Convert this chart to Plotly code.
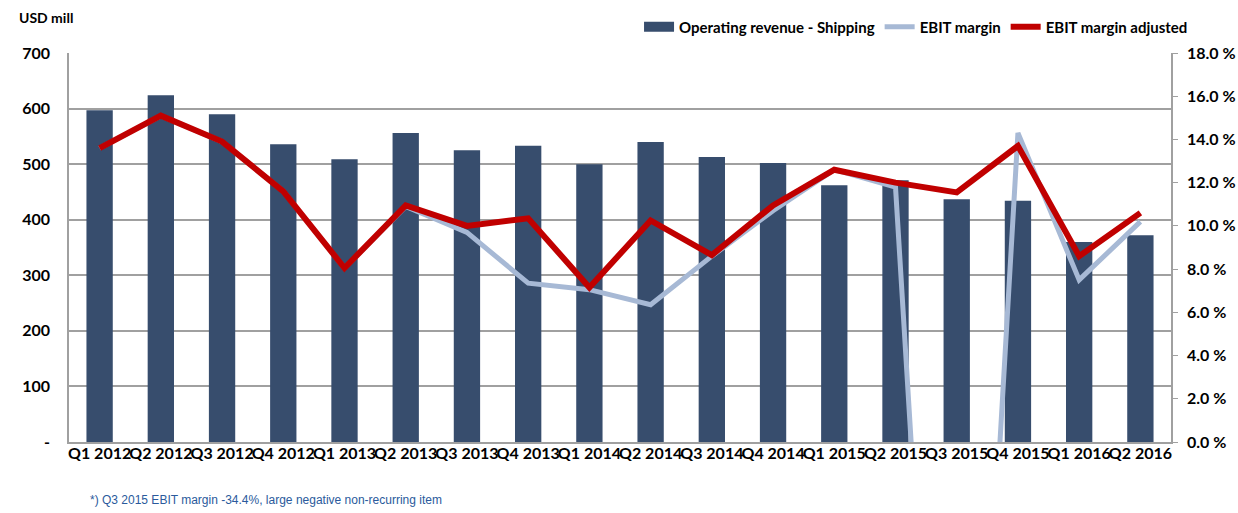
import plotly.graph_objects as go

quarters = ["Q1 2012", "Q2 2012", "Q3 2012", "Q4 2012", "Q1 2013", "Q2 2013", "Q3 2013", "Q4 2013",
            "Q1 2014", "Q2 2014", "Q3 2014", "Q4 2014", "Q1 2015", "Q2 2015", "Q3 2015", "Q4 2015",
            "Q1 2016", "Q2 2016"]
revenue = [597, 624, 590, 536, 509, 556, 525, 533, 500, 540, 513, 502, 462, 471, 437, 434, 360, 372]
ebit_margin = [13.6, 15.1, 13.9, 11.6, 8.05, 10.9, 9.7, 7.35, 7.05, 6.35, 8.6, 10.7, 12.6, 11.8, -34.4, 14.3, 7.5, 10.2]
ebit_margin_adj = [13.6, 15.1, 13.9, 11.6, 8.05, 10.95, 10.0, 10.35, 7.15, 10.25, 8.65, 10.95, 12.6, 12.0, 11.55, 13.7, 8.6, 10.6]

left_ticks = [0, 100, 200, 300, 400, 500, 600, 700]
left_labels = ["-", "100", "200", "300", "400", "500", "600", "700"]
right_ticks = [0, 2, 4, 6, 8, 10, 12, 14, 16, 18]
right_labels = ["0.0 %", "2.0 %", "4.0 %", "6.0 %", "8.0 %", "10.0 %", "12.0 %", "14.0 %", "16.0 %", "18.0 %"]

FONT = "Lato, sans-serif"
BOLD16 = dict(family=FONT, size=16, color="black", weight="bold")
BAR_COLOR = "#374d6d"

fig = go.Figure()
fig.add_trace(go.Bar(x=quarters, y=revenue, name="Operating revenue - Shipping",
                     marker=dict(color=BAR_COLOR, line=dict(width=0)), yaxis="y",
                     showlegend=False))
# legend-only entry so the bar key is drawn as a wide block, as in the original
fig.add_trace(go.Scatter(x=[None], y=[None], name="Operating revenue - Shipping", mode="lines",
                         line=dict(color=BAR_COLOR, width=10), yaxis="y", showlegend=True))
fig.add_trace(go.Scatter(x=quarters, y=ebit_margin, name="EBIT margin", mode="lines",
                         line=dict(color="#a7b9d5", width=5), yaxis="y2"))
fig.add_trace(go.Scatter(x=quarters, y=ebit_margin_adj, name="EBIT margin adjusted", mode="lines",
                         line=dict(color="#c00000", width=6), yaxis="y2"))

fig.update_layout(
    width=1238, height=513,
    margin=dict(l=69, r=67, t=53, b=71, autoexpand=False),
    paper_bgcolor="white", plot_bgcolor="white",
    font=dict(family=FONT, size=15, color="black"),
    bargap=0.57,
    showlegend=True,
    legend=dict(orientation="h", x=1.02, xanchor="right", y=1.067, yanchor="middle",
                font=dict(family=FONT, size=15, color="black", weight="bold"),
                bgcolor="rgba(0,0,0,0)", traceorder="normal", itemwidth=30,
                tracegroupgap=0),
    xaxis=dict(type="category", showline=True, linecolor="#a0a0a0", linewidth=1.5,
               showgrid=False, ticks="", tickangle=0, tickfont=BOLD16, fixedrange=True,
               ticklabelstandoff=-4),
    yaxis=dict(range=[0, 700], tickvals=left_ticks, ticktext=left_labels,
               showgrid=True, gridcolor="#a0a0a0", gridwidth=1.5,
               showline=True, linecolor="#a0a0a0", linewidth=1.5, ticks="",
               tickfont=BOLD16, ticklabelstandoff=14, zeroline=False),
    yaxis2=dict(range=[0, 18], tickvals=right_ticks, ticktext=right_labels, overlaying="y",
                side="right", showgrid=False, showline=True, linecolor="#a0a0a0", linewidth=1.5,
                ticks="outside", ticklen=5, tickcolor="#a0a0a0", zeroline=False,
                tickfont=BOLD16, ticklabelstandoff=6),
    annotations=[
        dict(text="<b>USD mill</b>", xref="paper", yref="paper", x=-0.047, y=1.09,
             xanchor="left", yanchor="middle", showarrow=False,
             font=dict(family=FONT, size=14, color="black")),
        dict(text="*) Q3 2015 EBIT margin -34.4%, large negative non-recurring item",
             xref="paper", yref="paper", x=0.017, y=-0.149, xanchor="left", yanchor="middle",
             showarrow=False, font=dict(family="Liberation Sans, Arial, sans-serif", size=12, color="#2a5a9c")),
    ],
)

fig.write_html("out.html", config={"displayModeBar": False},
               post_script="document.body.style.margin='0';document.body.style.overflow='hidden';")
